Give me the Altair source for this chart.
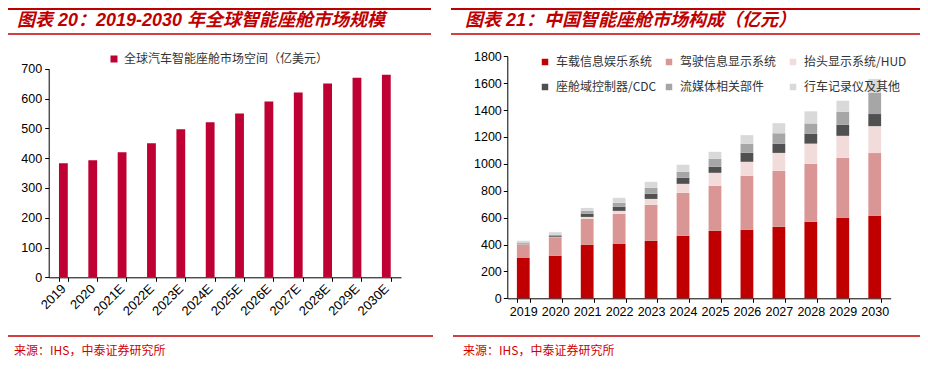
import altair as alt
import pandas as pd

# ---------------- data ----------------
years_l = ["2019", "2020", "2021E", "2022E", "2023E", "2024E", "2025E",
           "2026E", "2027E", "2028E", "2029E", "2030E"]
global_vals = [383, 393, 420, 450, 497, 520, 550, 590, 620, 650, 670, 680]
legend_l = "全球汽车智能座舱市场空间（亿美元）"

years_r = ["2019", "2020", "2021", "2022", "2023", "2024", "2025",
           "2026", "2027", "2028", "2029", "2030"]
series_r = ["车载信息娱乐系统", "驾驶信息显示系统", "抬头显示系统/HUD",
            "座舱域控制器/CDC", "流媒体相关部件", "行车记录仪及其他"]
ivi = [300, 317, 397, 404, 427, 464, 501, 509, 531, 568, 598, 613]
cluster = [99, 134, 194, 224, 268, 320, 335, 402, 417, 432, 447, 467]
hud = [3, 3, 14, 22, 44, 67, 97, 104, 133, 150, 163, 200]
cdc = [3, 8, 23, 30, 38, 45, 45, 67, 67, 72, 82, 90]
media = [10, 12, 22, 30, 44, 44, 59, 67, 79, 78, 97, 158]
other = [12, 18, 22, 37, 45, 53, 52, 64, 75, 90, 82, 103]
values_r = [ivi, cluster, hud, cdc, media, other]

title_l = "图表 20：2019-2030 年全球智能座舱市场规模"
title_r = "图表 21：中国智能座舱市场构成（亿元）"
source_txt = "来源：IHS，中泰证券研究所"

colors_r = ["#C00000", "#D99694", "#F2DCDB", "#505050", "#A6A6A6", "#D9D9D9"]
color_l = "#BE0032"
RED = "#C00000"

LAT = "'Liberation Sans', Arial, 'Noto Sans CJK SC'"
CJK = "'Noto Sans CJK SC'"

df_l = pd.DataFrame({"year": years_l, "value": global_vals, "series": legend_l})
rows = []
for i, (s, vals) in enumerate(zip(series_r, values_r)):
    for y, v in zip(years_r, vals):
        rows.append({"year": y, "value": v, "series": s, "idx": i})
df_r = pd.DataFrame(rows)

W, H = 912, 354

# ---------------- left panel ----------------
left = alt.Chart(df_l).mark_bar().encode(
    x=alt.X("year:N", sort=years_l, title=None,
            scale=alt.Scale(range=[40.7, 393.0], paddingInner=0.7, paddingOuter=0.35),
            axis=alt.Axis(orient="bottom", offset=-84.7, tickBand="extent",
                          labelAngle=315, labelAlign="right", labelBaseline="middle",
                          labelPadding=5, tickSize=4, domainColor="black", tickColor="black",
                          labelColor="black", labelFont=LAT, labelFontSize=13,
                          grid=False)),
    y=alt.Y("value:Q", title=None,
            scale=alt.Scale(domain=[0, 700], range=[269.3, 60.7], nice=False),
            axis=alt.Axis(orient="left", offset=-40.7, values=list(range(0, 701, 100)),
                          format="d", tickSize=4, labelPadding=3, domainColor="black",
                          tickColor="black", labelColor="black", labelFont=LAT,
                          labelFontSize=12.5, grid=False)),
    color=alt.Color("series:N", scale=alt.Scale(domain=[legend_l], range=[color_l]),
                    legend=alt.Legend(orient="none", legendX=100, legendY=45, title=None,
                                      symbolType="square", symbolSize=49, symbolStrokeWidth=0,
                                      labelFont=CJK, labelFontSize=12, labelColor="#333333",
                                      labelOffset=4, labelLimit=400)),
)

# ---------------- right panel ----------------
right = alt.Chart(df_r).mark_bar().encode(
    x=alt.X("year:N", sort=years_r, title=None,
            scale=alt.Scale(range=[499.3, 882.7], paddingInner=0.6, paddingOuter=0.3),
            axis=alt.Axis(orient="bottom", offset=-63.7, tickBand="extent", labelAngle=0,
                          labelPadding=3, tickSize=4, domainColor="black", tickColor="black",
                          labelColor="black", labelFont=LAT, labelFontSize=12.5, grid=False)),
    y=alt.Y("value:Q", title=None, stack="zero",
            scale=alt.Scale(domain=[0, 1800], range=[290.3, 48.2], nice=False),
            axis=alt.Axis(orient="left", offset=-499.3, values=list(range(0, 1801, 200)),
                          format="d", tickSize=4, labelPadding=2, domainColor="black",
                          tickColor="black", labelColor="black", labelFont=LAT,
                          labelFontSize=12.5, grid=False)),
    color=alt.Color("series:N", scale=alt.Scale(domain=series_r, range=colors_r),
                    legend=alt.Legend(orient="none", legendX=531, legendY=48, title=None,
                                      columns=3, direction="horizontal", gridAlign="all",
                                      columnPadding=4, rowPadding=13, symbolType="square",
                                      symbolSize=42, symbolStrokeWidth=0, labelFont=CJK,
                                      labelFontSize=12, labelColor="#333333", labelOffset=5,
                                      labelLimit=200)),
    order=alt.Order("idx:Q", sort="ascending"),
)

# ---------------- decorations ----------------
deco_df = pd.DataFrame({"d": [0]})


def rule(x1, x2, y, w, color=RED):
    return alt.Chart(deco_df).mark_rule(color=color, strokeWidth=w).encode(
        x=alt.value(x1), x2=alt.value(x2), y=alt.value(y))


def text(t, x, y, size, color, font, bold=False, italic=False):
    kw = dict(text=t, align="left", baseline="middle", fontSize=size, color=color, font=font)
    if bold:
        kw["fontWeight"] = "bold"
    if italic:
        kw["fontStyle"] = "italic"
    return alt.Chart(deco_df).mark_text(**kw).encode(x=alt.value(x), y=alt.value(y))


decos = [
    rule(0, 423, 1, 2.2), rule(443, 912, 1, 2.2),
    rule(0, 423, 26, 1.3), rule(443, 912, 26, 1.3),
    rule(0, 425, 328, 1.3), rule(445, 912, 328, 1.3),
    text(title_l, 9, 13, 18, RED, LAT, bold=True, italic=True),
    text(title_r, 457, 13, 18, RED, LAT, bold=True, italic=True),
    text(source_txt, 6, 343, 12, "#D00000", CJK),
    text(source_txt, 455, 343, 12, "#D00000", CJK),
]

chart = alt.layer(left, right, *decos).resolve_scale(
    x="independent", y="independent", color="independent"
).resolve_axis(x="independent", y="independent").properties(
    width=W, height=H, padding=0, autosize=alt.AutoSizeParams(type="none")
).configure_view(stroke=None)

chart.save("out.html", embed_options={"renderer": "svg", "actions": False})
